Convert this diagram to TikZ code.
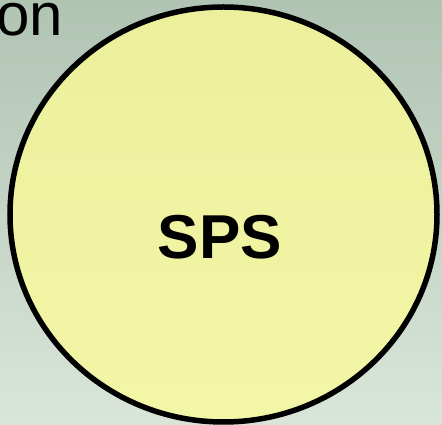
\documentclass[tikz,border=0pt]{standalone}
\usepackage{fontspec}
\setmainfont{Liberation Sans}
\definecolor{bgtop}{RGB}{176,196,180}
\definecolor{bgbot}{RGB}{217,229,217}
\definecolor{fltop}{RGB}{236,240,156}
\definecolor{flbot}{RGB}{243,246,166}
\tikzset{
  disc/.style={draw=black, line width=5.5pt, top color=fltop, bottom color=flbot},
  lbl/.style={inner sep=0pt, anchor=base, font=\fontsize{62}{70}\selectfont\bfseries},
  title/.style={inner sep=0pt, anchor=base west, font=\fontsize{60}{70}\selectfont}
}
\begin{document}
\begin{tikzpicture}[x=1pt,y=1pt]
\useasboundingbox (0,0) rectangle (442,425);
\shade[top color=bgtop, bottom color=bgbot] (0,0) rectangle (442,425);
\coordinate (c) at (223.5,210.5);
\draw[disc] (c) ellipse [x radius=213.5, y radius=207.5];
\node[lbl] (sps) at (220,166.7) {SPS};
\node[title] (on) at (-4,389) {on};
\end{tikzpicture}
\end{document}
